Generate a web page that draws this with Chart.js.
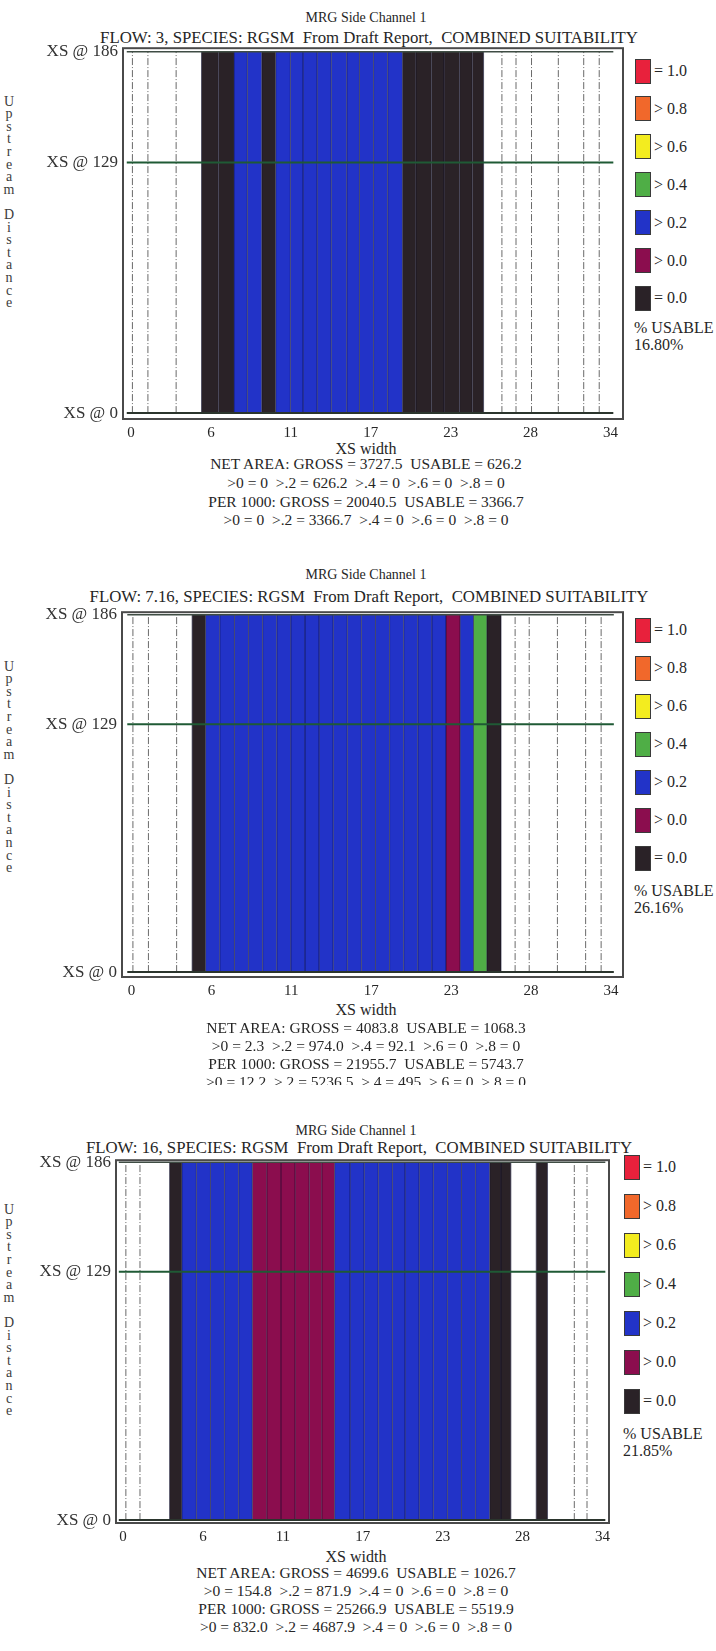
<!DOCTYPE html>
<html>
<head>
<meta charset="utf-8">
<script src="https://cdn.jsdelivr.net/npm/chart.js@4.4.1/dist/chart.umd.min.js"></script>
<style>
body { margin: 0; background: #fff; width: 716px; height: 1651px; position: relative; overflow: hidden; font-family: "Liberation Serif", "Times New Roman", serif; color: #262626; }
canvas { position: absolute; left: 0; }
.c { position: absolute; white-space: pre; transform: translate(-50%, -50%); }
.l { position: absolute; white-space: pre; transform: translateY(-50%); }
.box { position: absolute; width: 16px; height: 25px; border: 1px solid #3a3a3a; box-sizing: border-box; }
.up { position: absolute; width: 18px; font-size: 14px; color: #3c3c3c; text-align: center; }
.up div { height: 12.6px; line-height: 12.6px; }
.cut { position: absolute; left: 0; width: 716px; overflow: hidden; }
</style>
</head>
<body>
<script>
// axis ticks
const xTickValues = [0, 5.667, 11.333, 17, 22.667, 28.333, 34];
const xTickLabels = ['0', '6', '11', '17', '23', '28', '34'];
const yTickValues = [0, 129, 186];

// legend (index is used as the class of each cell below)
const legendLabels = ['= 1.0', '> 0.8', '> 0.6', '> 0.4', '> 0.2', '> 0.0', '= 0.0'];

const flows = ['3', '7.16', '16'];
const usable = ['16.80%', '26.16%', '21.85%'];

// panel 1 - cell edges along XS width, class of each cell (null = dry)
const edges1 = [5.0, 6.2, 7.3, 8.25, 9.27, 10.26, 11.3, 12.2, 13.2, 14.2, 15.3, 16.2, 17.2, 18.2, 19.25, 20.2, 21.3, 22.2, 23.3, 24.2, 25.0];
const class1 = [6, 6, 4, 4, 6, 4, 4, 4, 4, 4, 4, 4, 4, 4, 6, 6, 6, 6, 6, 6];
const dry1 = [0.1, 1.2, 3.2, 26.3, 27.3, 28.4, 30.3, 32.1, 33.2];

// panel 2
const edges2 = [4.3, 5.25, 6.26, 7.3, 8.3, 9.3, 10.3, 11.3, 12.3, 13.3, 14.3, 15.3, 16.3, 17.3, 18.3, 19.3, 20.3, 21.3, 22.3, 23.3, 24.25, 25.2, 26.2];
const class2 = [6, 4, 4, 4, 4, 4, 4, 4, 4, 4, 4, 4, 4, 4, 4, 4, 4, 4, 5, 4, 3, 6];
const dry2 = [0.1, 1.2, 3.2, 27.2, 28.2, 30.2, 32.2, 33.3];

// panel 3
const edges3 = [3.3, 4.17, 5.2, 6.2, 7.2, 8.2, 9.17, 10.2, 11.2, 12.2, 13.2, 14.1, 15.0, 16.1, 17.1, 18.1, 19.1, 20.0, 21.0, 22.0, 23.0, 24.0, 25.0, 26.0, 26.8, 27.5, 29.3, 30.1];
const class3 = [6, 4, 4, 4, 4, 4, 5, 5, 5, 5, 5, 5, 4, 4, 4, 4, 4, 4, 4, 4, 4, 4, 4, 6, 6, null, 6];
const dry3 = [0.2, 1.2, 32.0, 32.9];

const stats1 = [
  'NET AREA: GROSS = 3727.5  USABLE = 626.2',
  '>0 = 0  >.2 = 626.2  >.4 = 0  >.6 = 0  >.8 = 0',
  'PER 1000: GROSS = 20040.5  USABLE = 3366.7',
  '>0 = 0  >.2 = 3366.7  >.4 = 0  >.6 = 0  >.8 = 0'
];
const stats2 = [
  'NET AREA: GROSS = 4083.8  USABLE = 1068.3',
  '>0 = 2.3  >.2 = 974.0  >.4 = 92.1  >.6 = 0  >.8 = 0',
  'PER 1000: GROSS = 21955.7  USABLE = 5743.7',
  '>0 = 12.2  >.2 = 5236.5  >.4 = 495  >.6 = 0  >.8 = 0'
];
const stats3 = [
  'NET AREA: GROSS = 4699.6  USABLE = 1026.7',
  '>0 = 154.8  >.2 = 871.9  >.4 = 0  >.6 = 0  >.8 = 0',
  'PER 1000: GROSS = 25266.9  USABLE = 5519.9',
  '>0 = 832.0  >.2 = 4687.9  >.4 = 0  >.6 = 0  >.8 = 0'
];

// ---- styles / layout ----
const colors = ['#e8213c', '#f1682b', '#f3ec1f', '#4fae46', '#2233c8', '#8b0d4e', '#2a2227'];
const lineFrom = -0.3, lineTo = 34.2;

const layouts = [
  { top: 33, h: 411, left: 123, right: 623, xMin: -0.567, xMax: 34.886, yMin: -3.04, yMax: 187.77,
    titleY: 18, subY: 38, tx: 366, upY: 102, legX: 635, legY: 71, legStep: 37.9, usableY: 328, widthY: 449, statsY: 464, statsStep: 18.8 },
  { top: 597, h: 405, left: 122, right: 623, xMin: -0.674, xMax: 34.85, yMin: -2.56, yMax: 187.28,
    titleY: 575, subY: 597, tx: 366, upY: 667, legX: 635, legY: 630, legStep: 38, usableY: 891, widthY: 1010, statsY: 1028, statsStep: 18, cut: 1085 },
  { top: 1145, h: 403, left: 116, right: 609, xMin: -0.5, xMax: 34.46, yMin: -1.53, yMax: 187.02,
    titleY: 1131, subY: 1148, tx: 356, upY: 1210, legX: 624, legY: 1167, legStep: 39, usableY: 1434, widthY: 1557, statsY: 1573, statsStep: 18 }
];
const panels = [
  { edges: edges1, cls: class1, dry: dry1, stats: stats1 },
  { edges: edges2, cls: class2, dry: dry2, stats: stats2 },
  { edges: edges3, cls: class3, dry: dry3, stats: stats3 }
];

function addText(cls, x, y, text, css) {
  const d = document.createElement('div');
  d.className = cls;
  d.style.left = x + 'px';
  d.style.top = y + 'px';
  d.textContent = text;
  if (css) d.style.cssText += css;
  document.body.appendChild(d);
  return d;
}

const framePlugin = {
  id: 'frame',
  afterDraw(chart) {
    const a = chart.chartArea, ctx = chart.ctx;
    ctx.save();
    ctx.strokeStyle = '#4a4a4a';
    ctx.lineWidth = 2;
    ctx.strokeRect(a.left, a.top, a.right - a.left, a.bottom - a.top);
    ctx.restore();
  }
};

function vline(x, color, dash, order) {
  return { type: 'line', data: [{ x: x, y: yTickValues[0] }, { x: x, y: yTickValues[2] }],
    borderColor: color, borderWidth: 1, borderDash: dash, pointRadius: 0, fill: false, order: order };
}
function hline(y, color, w) {
  return { type: 'line', data: [{ x: lineFrom, y: y }, { x: lineTo, y: y }],
    borderColor: color, borderWidth: w, pointRadius: 0, fill: false, order: 1 };
}

panels.forEach((p, k) => {
  const L = layouts[k];

  // texts
  addText('c', L.tx, L.titleY, 'MRG Side Channel 1', 'font-size:14px');
  addText('c', L.tx + 3, L.subY, 'FLOW: ' + flows[k] + ', SPECIES: RGSM  From Draft Report,  COMBINED SUITABILITY', 'font-size:16.8px');
  const up = document.createElement('div');
  up.className = 'up';
  up.style.left = '0px';
  up.style.top = (L.upY - 6.3) + 'px';
  'Upstream Distance'.split('').forEach(ch => {
    const r = document.createElement('div');
    r.textContent = ch === ' ' ? '' : ch;
    up.appendChild(r);
  });
  document.body.appendChild(up);

  legendLabels.forEach((lab, i) => {
    const cy = L.legY + i * L.legStep;
    const b = document.createElement('div');
    b.className = 'box';
    b.style.left = L.legX + 'px';
    b.style.top = (cy - 12.5) + 'px';
    b.style.background = colors[i];
    document.body.appendChild(b);
    addText('l', L.legX + 19, cy, lab, 'font-size:16px');
  });
  addText('l', L.legX - 1, L.usableY, '% USABLE', 'font-size:16px');
  addText('l', L.legX - 1, L.usableY + 17, usable[k], 'font-size:16px');

  addText('c', L.tx, L.widthY, 'XS width', 'font-size:16px');
  let host = document.body;
  if (L.cut) {
    host = document.createElement('div');
    host.className = 'cut';
    host.style.top = '0px';
    host.style.height = L.cut + 'px';
    document.body.appendChild(host);
  }
  p.stats.forEach((s, i) => {
    const d = addText('c', L.tx, L.statsY + i * L.statsStep, s, 'font-size:15.5px');
    host.appendChild(d);
  });

  // chart
  const cv = document.createElement('canvas');
  cv.width = 716;
  cv.height = L.h;
  cv.style.top = L.top + 'px';
  document.body.appendChild(cv);

  const sets = [];
  for (let i = 0; i < p.cls.length; i++) {
    if (p.cls[i] === null) continue;
    sets.push({ type: 'line', data: [{ x: p.edges[i], y: yTickValues[2] }, { x: p.edges[i + 1], y: yTickValues[2] }],
      fill: 'origin', backgroundColor: colors[p.cls[i]], borderWidth: 0, pointRadius: 0, order: 3 });
  }
  p.edges.forEach((e, i) => {
    const wet = (p.cls[i - 1] != null) || (p.cls[i] != null);
    sets.push(vline(e, wet ? 'rgba(5,5,35,0.6)' : '#666', [], 2));
  });
  p.dry.forEach(x => sets.push(vline(x, '#6a6a6a', [7, 2, 1, 2], 2)));
  sets.push(hline(yTickValues[2], '#3f4d44', 1.5));
  sets.push(hline(yTickValues[1], '#1f5a35', 2));
  sets.push(hline(yTickValues[0], '#2b352d', 2));

  new Chart(cv, {
    type: 'line',
    data: { datasets: sets },
    options: {
      responsive: false,
      animation: false,
      devicePixelRatio: 1,
      layout: { padding: { top: 10, right: 716 - L.right, left: 0, bottom: 0 } },
      plugins: { legend: { display: false }, tooltip: { enabled: false } },
      scales: {
        x: {
          type: 'linear', min: L.xMin, max: L.xMax,
          grid: { display: false, drawTicks: false },
          border: { display: false },
          afterBuildTicks: s => { s.ticks = xTickValues.map(v => ({ value: v })); },
          afterFit: s => { s.height = 25; },
          ticks: { callback: (v, i) => xTickLabels[i], padding: 5, maxRotation: 0, color: '#262626',
            font: { family: 'Liberation Serif', size: 15 } }
        },
        y: {
          type: 'linear', min: L.yMin, max: L.yMax,
          grid: { display: false, drawTicks: false },
          border: { display: false },
          afterBuildTicks: s => { s.ticks = yTickValues.map(v => ({ value: v })); },
          afterFit: s => { s.width = L.left; },
          ticks: { callback: v => 'XS @ ' + v, padding: 5, color: '#333',
            font: { family: 'Liberation Serif', size: 17 } }
        }
      }
    },
    plugins: [framePlugin]
  });
});
</script>
</body>
</html>
